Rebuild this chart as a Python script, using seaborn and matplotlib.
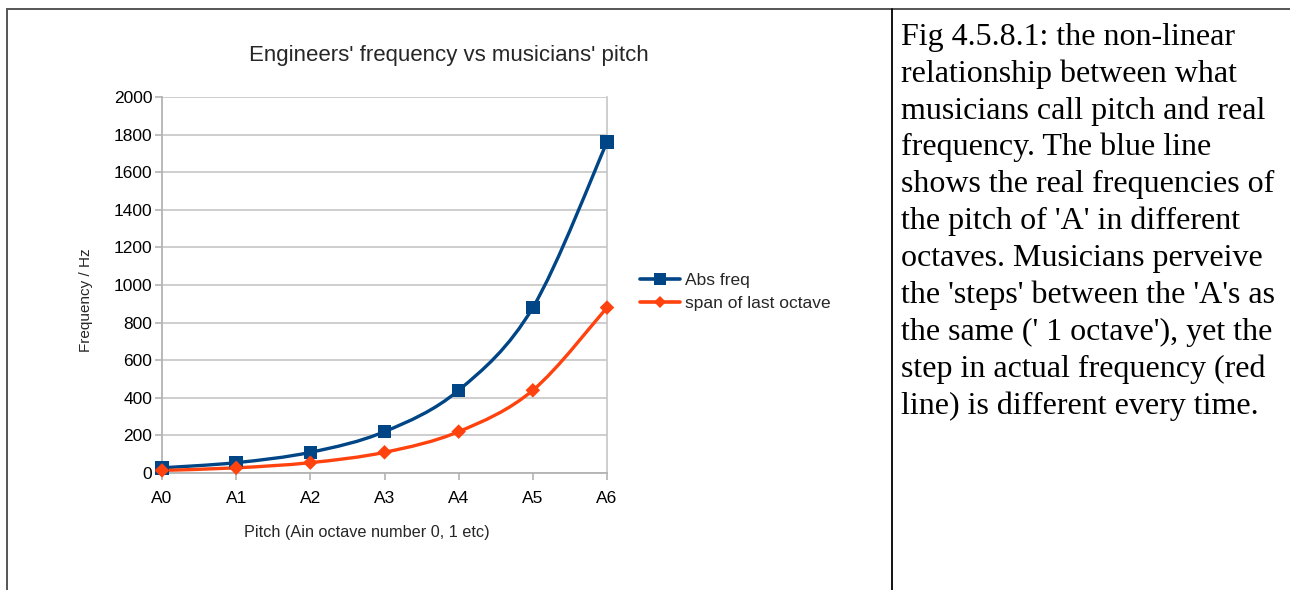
import numpy as np
import pandas as pd
import seaborn as sns
import matplotlib
matplotlib.use("Agg")
import matplotlib.pyplot as plt
from matplotlib.path import Path
from matplotlib.patches import PathPatch
from matplotlib.lines import Line2D

# Pitch categories and the two frequency series (Hz)
pitches = ["A0", "A1", "A2", "A3", "A4", "A5", "A6"]
abs_freq = [27.5, 55, 110, 220, 440, 880, 1760]
span_last_octave = [13.75, 27.5, 55, 110, 220, 440, 880]
series_names = ["Abs freq", "span of last octave"]
y_ticks = [0, 200, 400, 600, 800, 1000, 1200, 1400, 1600, 1800, 2000]

caption_lines = [
    "Fig 4.5.8.1: the non-linear",
    "relationship between what",
    "musicians call pitch and real",
    "frequency. The blue line",
    "shows the real frequencies of",
    "the pitch of 'A' in different",
    "octaves. Musicians perveive",
    "the 'steps' between the 'A's as",
    "the same (' 1 octave'), yet the",
    "step in actual frequency (red",
    "line) is different every time.",
]

BLUE = "#004586"
ORANGE = "#ff420e"
GRID = "#c6c6c6"
AXIS = "#b3b3b3"

sns.set_theme(style="white")
plt.rcParams["font.family"] = ["Liberation Sans", "DejaVu Sans"]

df = pd.DataFrame({
    "pos": list(range(len(pitches))) * 2,
    "freq": abs_freq + span_last_octave,
    "series": [series_names[0]] * len(pitches) + [series_names[1]] * len(pitches),
})

fig = plt.figure(figsize=(12.9, 5.9), dpi=100)
ax = fig.add_axes([162 / 1290, 117 / 590, 445 / 1290, 376 / 590])


def smooth_path(xs, ys):
    """Catmull-Rom curve through the points, expressed as cubic Bezier segments."""
    xs = np.asarray(xs, float)
    ys = np.asarray(ys, float)
    pts = np.column_stack([xs, ys])
    n = len(pts)
    verts = [pts[0]]
    codes = [Path.MOVETO]
    for i in range(n - 1):
        p0 = pts[i - 1] if i > 0 else pts[i]
        p1 = pts[i]
        p2 = pts[i + 1]
        p3 = pts[i + 2] if i + 2 < n else pts[i + 1]
        c1 = p1 + (p2 - p0) / 6.0
        c2 = p2 - (p3 - p1) / 6.0
        verts += [c1, c2, p2]
        codes += [Path.CURVE4] * 3
    return Path(verts, codes)


for name, color in zip(series_names, [BLUE, ORANGE]):
    sub = df[df["series"] == name]
    ax.add_patch(PathPatch(smooth_path(sub["pos"], sub["freq"]), facecolor="none",
                           edgecolor=color, lw=2.4, zorder=3, clip_on=False))

sns.scatterplot(data=df, x="pos", y="freq", hue="series", style="series",
                palette={series_names[0]: BLUE, series_names[1]: ORANGE},
                markers={series_names[0]: "s", series_names[1]: "D"},
                size="series", sizes={series_names[0]: 95, series_names[1]: 55},
                edgecolor="none", legend=False, ax=ax, zorder=4, clip_on=False)

ax.set_xlim(0, 6)
ax.set_ylim(0, 2000)
ax.set_xticks(range(len(pitches)))
ax.set_xticklabels(pitches)
ax.set_yticks(y_ticks)
ax.set_yticklabels([str(v) for v in y_ticks])
ax.yaxis.grid(True, color=GRID, lw=1.2)
ax.xaxis.grid(False)
ax.set_axisbelow(True)
ax.set_xlabel("")
ax.set_ylabel("")

for side in ["left", "bottom"]:
    ax.spines[side].set_color(AXIS)
    ax.spines[side].set_linewidth(1.3)
ax.spines["right"].set_color(GRID)
ax.spines["right"].set_linewidth(1.2)
ax.spines["top"].set_visible(False)

ax.tick_params(axis="both", which="both", direction="out", length=5, width=1.2,
               color=AXIS, labelsize=12.5, labelcolor="#000000")
ax.tick_params(axis="y", pad=2, left=True)
ax.tick_params(axis="x", pad=8, bottom=True)

handles = [
    Line2D([], [], color=BLUE, lw=2.6, marker="s", markersize=8.5, markeredgewidth=0),
    Line2D([], [], color=ORANGE, lw=2.6, marker="D", markersize=6.5, markeredgewidth=0),
]
fig.legend(handles, series_names, loc="center left", bbox_to_anchor=(640 / 1290, 1 - 292 / 590),
           frameon=False, fontsize=12.5, handlelength=2.3, handletextpad=0.3,
           labelspacing=0.45, borderpad=0, borderaxespad=0)

fig.text(449 / 1290, 1 - 55 / 590, "Engineers' frequency vs musicians' pitch",
         ha="center", va="center", fontsize=16)
fig.text(86 / 1290, 1 - 300 / 590, "Frequency / Hz", ha="center", va="center",
         rotation=90, fontsize=11)
fig.text(367 / 1290, 1 - 532 / 590, "Pitch (Ain octave number 0, 1 etc)",
         ha="center", va="center", fontsize=11.7)

# Caption cell to the right of the chart
for i, line in enumerate(caption_lines):
    fig.text(901 / 1290, 1 - (37 + i * 36.9) / 590, line, ha="left", va="center",
             fontsize=23, family=["Liberation Serif", "DejaVu Serif"], color="#000000")

# Table borders around the two cells
fig.add_artist(Line2D([7 / 1290, 1], [1 - 9 / 590, 1 - 9 / 590], color="#555555", lw=1.4))
fig.add_artist(Line2D([7 / 1290, 7 / 1290], [0, 1 - 9 / 590], color="#555555", lw=1.4))
fig.add_artist(Line2D([892 / 1290, 892 / 1290], [0, 1 - 9 / 590], color="#000000", lw=1.3))

fig.savefig("out.png", dpi=100, facecolor="white")
